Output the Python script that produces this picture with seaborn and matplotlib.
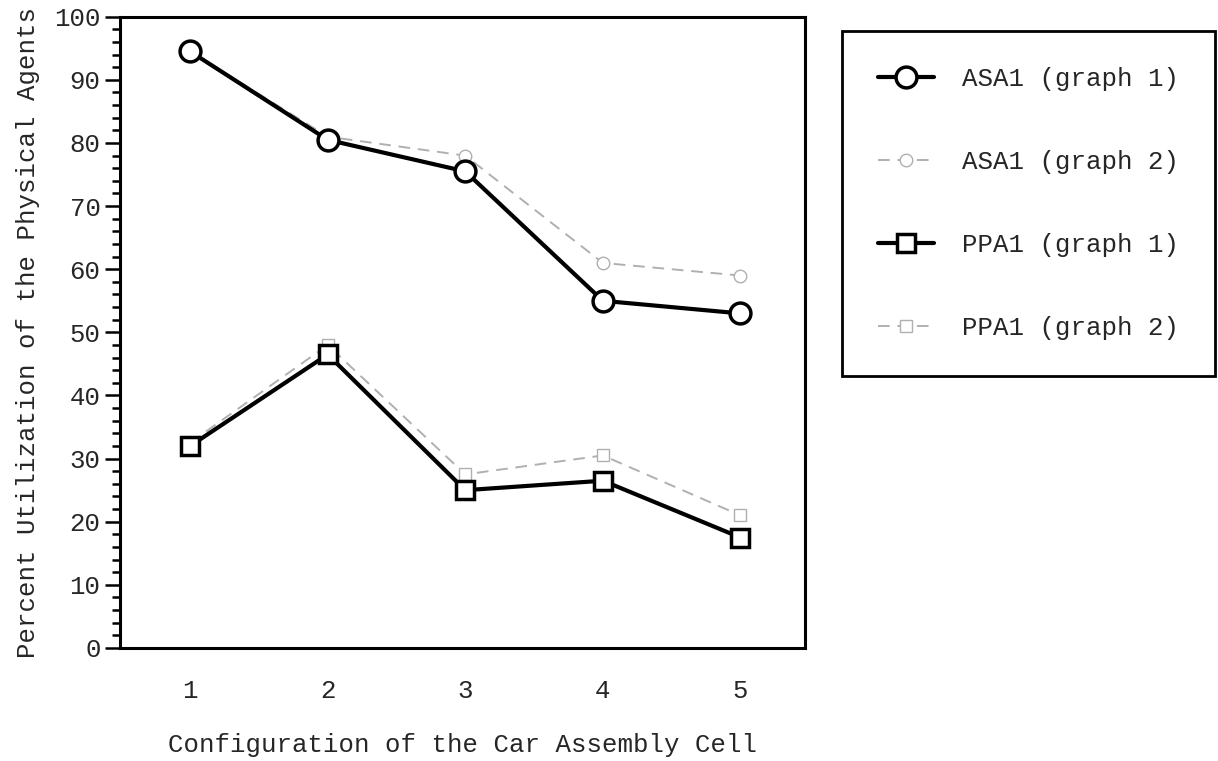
import matplotlib
matplotlib.use("Agg")
import matplotlib.pyplot as plt
from matplotlib.ticker import MultipleLocator
import seaborn as sns
import pandas as pd

# Configurations of the car assembly cell
configs = [1, 2, 3, 4, 5]

# Percent utilization of the physical agents
asa1_graph1 = [94.5, 80.5, 75.5, 55.0, 53.0]
asa1_graph2 = [94.5, 81.0, 78.0, 61.0, 59.0]
ppa1_graph1 = [32.0, 46.5, 25.0, 26.5, 17.5]
ppa1_graph2 = [32.5, 48.0, 27.5, 30.5, 21.0]

series_names = ["ASA1 (graph 1)", "ASA1 (graph 2)", "PPA1 (graph 1)", "PPA1 (graph 2)"]

sns.set_style("white")
plt.rcParams["font.family"] = ["Liberation Mono", "DejaVu Sans Mono"]

FS = 18.5

frames = []
for name, vals in zip(series_names, [asa1_graph1, asa1_graph2, ppa1_graph1, ppa1_graph2]):
    frames.append(pd.DataFrame({"config": configs, "util": vals, "series": name}))
data = pd.concat(frames, ignore_index=True)

fig = plt.figure(figsize=(12.18, 7.61), dpi=100)
ax = fig.add_axes([0.0985, 0.1485, 0.5625, 0.8295])

styles = {
    "ASA1 (graph 1)": dict(color="black", lw=3.0, marker="o", ms=15, mew=2.5,
                           mfc="white", mec="black", ls="-", zorder=4),
    "ASA1 (graph 2)": dict(color="#b0b0b0", lw=1.4, marker="o", ms=9, mew=1.0,
                           mfc="white", mec="#b0b0b0", ls=(0, (6, 4)), zorder=3),
    "PPA1 (graph 1)": dict(color="black", lw=3.0, marker="s", ms=13, mew=2.5,
                           mfc="white", mec="black", ls="-", zorder=4),
    "PPA1 (graph 2)": dict(color="#b0b0b0", lw=1.4, marker="s", ms=8, mew=1.0,
                           mfc="white", mec="#b0b0b0", ls=(0, (6, 4)), zorder=3),
}

for name in series_names:
    st = styles[name]
    sub = data[data["series"] == name]
    sns.lineplot(data=sub, x="config", y="util", ax=ax, label=name,
                 color=st["color"], linewidth=st["lw"], linestyle=st["ls"],
                 marker=st["marker"], markersize=st["ms"], markeredgewidth=st["mew"],
                 markerfacecolor=st["mfc"], markeredgecolor=st["mec"],
                 zorder=st["zorder"], estimator=None)

ax.set_xlim(0.49, 5.47)
ax.set_ylim(0, 100)
ax.set_xticks(configs)
ax.set_xticklabels([str(c) for c in configs])
ax.yaxis.set_major_locator(MultipleLocator(10))
ax.yaxis.set_minor_locator(MultipleLocator(2))

ax.tick_params(axis="y", which="major", direction="out", length=11, width=1.8,
               labelsize=FS, pad=3, color="black", left=True)
ax.tick_params(axis="y", which="minor", direction="out", length=6, width=1.8,
               color="black", left=True)
ax.tick_params(axis="x", which="both", length=0, labelsize=FS, pad=22)

for sp in ax.spines.values():
    sp.set_visible(True)
    sp.set_color("black")
    sp.set_linewidth(2.2)

ax.set_xlabel("Configuration of the Car Assembly Cell", fontsize=FS, labelpad=22)
ax.set_ylabel("Percent Utilization of the Physical Agents", fontsize=FS, labelpad=10)
ax.grid(False)

leg = ax.legend(loc="upper left", bbox_to_anchor=(0.691, 0.959),
                bbox_transform=fig.transFigure, frameon=True, fancybox=False,
                fontsize=FS, borderpad=1.4, handlelength=2.2, handletextpad=1.1,
                labelspacing=2.3, borderaxespad=0, edgecolor="black")
leg.get_frame().set_linewidth(2.0)
leg.get_frame().set_alpha(1)

fig.savefig("out.png", dpi=100, facecolor="white")
